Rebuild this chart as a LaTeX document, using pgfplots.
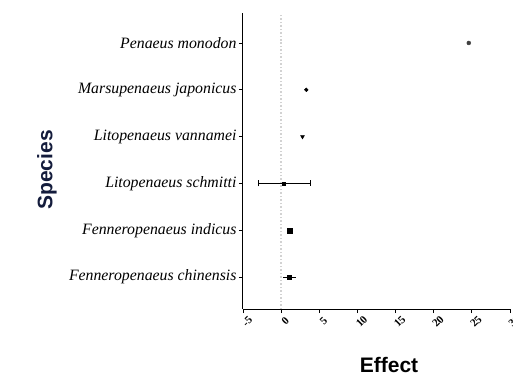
\documentclass[border=0pt]{standalone}
\usepackage{pgfplots}
\pgfplotsset{compat=1.18}
\usepackage{fontspec}
\setmainfont{Liberation Serif}
\newfontfamily\labfont{Liberation Sans}
\definecolor{navy}{RGB}{20,28,60}
\begin{document}
\begin{tikzpicture}
\useasboundingbox (-243bp,-67bp) rectangle (270bp,309bp);
\begin{axis}[
  at={(0,0)}, anchor=south west,
  scale only axis, width=267bp, height=296bp,
  xmin=-5, xmax=30, ymin=0.32, ymax=6.64,
  axis lines=left, axis line style={-, line width=1pt},
  tick align=outside, major tick length=4bp,
  tick style={line width=0.9pt, black},
  xtick={-5,0,5,10,15,20,25,30},
  ytick={1,2,3,4,5,6},
  yticklabels={Fenneropenaeus chinensis, Fenneropenaeus indicus, Litopenaeus schmitti, Litopenaeus vannamei, Marsupenaeus japonicus, Penaeus monodon},
  yticklabel style={font=\fontsize{15.8bp}{18bp}\selectfont\itshape, anchor=east, xshift=1bp},
  /pgf/number format/assume math mode=true,
  xticklabel style={font=\fontsize{11bp}{12bp}\selectfont\bfseries, rotate=45, anchor=center, inner sep=0pt, yshift=-9bp, xshift=-3bp},
  xlabel={Effect},
  xlabel style={font=\labfont\bfseries\fontsize{21bp}{24bp}\selectfont, at={(axis description cs:0.547,-0.19)}, anchor=center},
  ylabel={Species},
  ylabel style={font=\labfont\bfseries\fontsize{21bp}{24bp}\selectfont, text=navy, at={(axis description cs:-0.734,0.47)}, anchor=center},
  clip=false,
]
\addplot[gray!35, dotted, line width=1.5pt] coordinates {(0,0.32) (0,6.64)};
% Penaeus monodon
\addplot[only marks, mark=*, mark size=2bp, black!75] coordinates {(24.6,6)};
% Marsupenaeus japonicus
\addplot[only marks, mark=*, mark size=1.9bp, black] coordinates {(3.3,5)};
% Litopenaeus vannamei
\addplot[only marks, mark=triangle*, mark options={rotate=180}, mark size=2.3bp, black] coordinates {(2.8,4)};
% Litopenaeus schmitti
\addplot[only marks, mark=square*, mark size=1.5bp, black,
  error bars/.cd, x dir=both, x explicit, error mark=|,
  error bar style={line width=1pt, black},
  error mark options={line width=1pt, mark size=3bp, black}]
  coordinates {(0.4,3) +- (3.4,0)};
% Fenneropenaeus indicus
\addplot[only marks, mark=square*, mark size=2.6bp, black] coordinates {(1.1,2)};
% Fenneropenaeus chinensis
\addplot[only marks, mark=square*, mark size=2bp, black,
  error bars/.cd, x dir=both, x explicit,
  error bar style={line width=1.3pt, black},
  error mark options={line width=1pt, mark size=1.5bp, black}]
  coordinates {(1.1,1) +- (0.65,0)};
\end{axis}
\end{tikzpicture}
\end{document}
